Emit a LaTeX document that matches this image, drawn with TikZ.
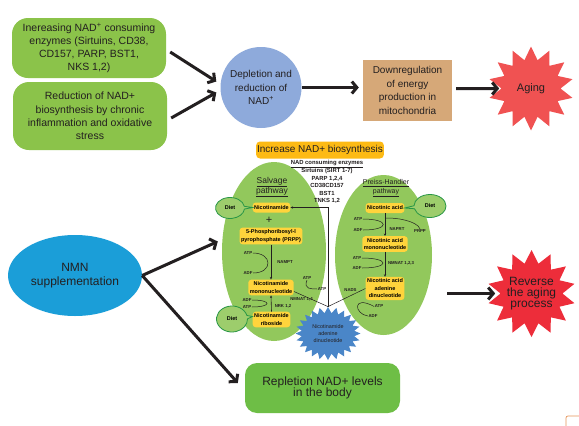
\documentclass[tikz,border=0pt]{standalone}
\usepackage{fontspec}
\setmainfont{Liberation Sans}
\usetikzlibrary{arrows.meta,shapes.geometric,shapes.symbols,shapes.callouts}

\definecolor{causegreen}{RGB}{139,195,74}
\definecolor{deplblue}{RGB}{142,170,219}
\definecolor{energytan}{RGB}{214,168,120}
\definecolor{agingred}{RGB}{240,82,82}
\definecolor{reversered}{RGB}{237,45,58}
\definecolor{nmnblue}{RGB}{27,158,216}
\definecolor{replgreen}{RGB}{110,190,70}
\definecolor{pathgreen}{RGB}{146,200,92}
\definecolor{stepyellow}{RGB}{255,212,60}
\definecolor{headorange}{RGB}{253,186,20}
\definecolor{dietline}{RGB}{40,150,70}
\definecolor{nadblue}{RGB}{74,134,200}
\definecolor{inkgray}{RGB}{35,31,32}
\definecolor{cornerorange}{RGB}{230,150,90}

\tikzset{
  causebox/.style={fill=causegreen, rounded corners=16pt, minimum width=154pt, align=center, inner sep=2pt, text=inkgray, font=\fontsize{10.5}{13.3}\selectfont},
  bigarrow/.style={draw=inkgray, line width=3pt, -{Straight Barb[length=5pt,width=12pt]}},
  ybox/.style={fill=stepyellow, rounded corners=3pt, align=center, inner xsep=1.5pt, inner ysep=2pt, minimum height=10pt, font=\bfseries\fontsize{5.5}{7.5}\selectfont},
  cofactor/.style={inner sep=0.5pt, text=inkgray, font=\bfseries\fontsize{4.3}{5}\selectfont},
  cofline/.style={draw=inkgray, line width=0.5pt},
  enzarrow/.style={draw=inkgray, line width=0.6pt, -{Stealth[length=2.5pt,width=2.2pt]}},
  diet/.style={ellipse callout, draw=dietline, fill=pathgreen!90!white, line width=0.8pt, inner sep=0pt, font=\bfseries\fontsize{5.5}{6}\selectfont},
  burst/.style={starburst, random starburst=0, inner sep=0pt},
}

\begin{document}
\begin{tikzpicture}[x=1pt,y=-1pt]
\useasboundingbox (0,0) rectangle (579,426);
\fill[white] (0,0) rectangle (579,426);

\node[causebox, minimum height=60pt] (incr) at (89,48) {Inereasing NAD\textsuperscript{+} consuming\\enzymes (Sirtuins, CD38,\\CD157, PARP, BST1,\\NKS 1,2)};
\node[causebox, minimum height=68pt] (redu) at (90,116) {Reduction of NAD+\\biosynthesis by chronic\\inflammation and oxidative\\stress};
\node[circle, fill=deplblue, minimum size=81pt, inner sep=0pt, align=center, text=inkgray, font=\fontsize{10}{13.5}\selectfont] (depl) at (261,87.5) {Depletion and\\reduction of\\NAD\textsuperscript{+}};
\node[fill=energytan, minimum width=89pt, minimum height=61pt, align=center, text=inkgray, font=\fontsize{10}{13.5}\selectfont] (down) at (407.5,90.5) {Downregulation\\of energy\\production in\\mitochondria};
\node[burst, starburst points=14, starburst point height=13pt, fill=agingred, minimum width=85pt, minimum height=84pt, text=inkgray, font=\fontsize{11}{13}\selectfont] (aging) at (531,88.5) {Aging};

\draw[bigarrow] ([xshift=4pt,yshift=-4pt]incr.east) -- ([xshift=-4pt,yshift=6pt]depl.west);
\draw[bigarrow] ([xshift=4pt,yshift=-2pt]redu.east) -- ([xshift=-4pt,yshift=-5pt]depl.west);
\draw[bigarrow] (depl.east) -- ([xshift=-4pt]depl.east -| down.west);
\draw[bigarrow] ([xshift=4pt,yshift=2pt]down.east) -- ([xshift=-2pt]aging.west);

\node[fill=headorange, rounded corners=4pt, minimum width=126pt, minimum height=17pt, inner sep=1pt, text=inkgray, font=\fontsize{10}{12}\selectfont] (incbio) at (320,150) {Increase NAD+ biosynthesis};

\node[ellipse, fill=pathgreen, minimum width=104pt, minimum height=179pt] (salvage) at (274,251.5) {};
\node[ellipse, fill=pathgreen, minimum width=97pt, minimum height=160pt] (preiss) at (383.5,255) {};
\node[burst, starburst points=24, starburst point height=6pt, fill=nadblue, minimum width=65pt, minimum height=53pt, align=center, text=inkgray, font=\fontsize{5.4}{7}\selectfont] (nad) at (328,333.5) {Nicotinamide\\adenine\\dinucleotide};

\node[align=center, text=inkgray, font=\bfseries\fontsize{5.9}{7.5}\selectfont] (enz) at (327,182) {\underline{NAD consuming enzymes}\\Sirtuins (SIRT 1-7)\\PARP 1,2,4\\CD38CD157\\BST1\\TNKS 1,2};

\node[align=center, text=inkgray, font=\fontsize{8.5}{10}\selectfont] (salvlab) at (272,187) {\underline{Salvage}\\\underline{pathway}};
\node[ybox] (nicam) at (271.5,207.5) {Nicotinamide};
\node[text=inkgray, font=\fontsize{11}{11}\selectfont, inner sep=0pt] (plus) at (269,220) {+};
\node[ybox] (prpp) at (271,236) {5-Phosphoribosyl-l\\pyrophosphate (PRPP)};
\node[ybox] (nmn) at (271,287.5) {Nicotinamide\\mononucleotide};
\node[ybox] (nr) at (271.5,319.5) {Nicotinamide\\riboside};

\node[cofactor] (atpa) at (248,253) {ATP};
\node[cofactor] (adpa) at (248,273) {ADF};
\node[cofactor] (nampt) at (285,262) {NAMPT};
\node[cofactor] (atpb) at (307,278) {ATP};
\node[cofactor] (atpc) at (322,289) {ATP};
\node[cofactor] (nmnat) at (301.5,299.5) {NMNAT 1,4};
\node[cofactor] (adpd) at (247,300) {ADF};
\node[cofactor] (atpd) at (247,307) {ATP};
\node[cofactor] (nrk) at (283,306) {NRK 1,2};

\draw[enzarrow] (prpp.south) -- (nmn.north);
\draw[cofline] (atpa.east) .. controls +(20,0) and +(20,0) .. (adpa.east);
\draw[cofline] (atpb.south) .. controls +(-4,9) and +(-6,0) .. (atpc.west);
\draw[cofline] ([yshift=-4pt]nmn.east) -- (nad.north);
\draw[enzarrow] (nr.north) -- (nmn.south);
\draw[cofline] (adpd.east) .. controls +(20,0) and +(20,0) .. (atpd.east);
\draw[enzarrow] (nad.north) |- (nicam.east);

\node[align=center, text=inkgray, font=\fontsize{7}{9}\selectfont] (preisslab) at (386,188.5) {\underline{Preiss-Handler}\\\underline{pathway}};
\node[ybox] (na) at (385,208) {Nicotinic acid};
\node[ybox] (namn) at (385,244) {Nicotinic acid\\mononucleotide};
\node[ybox] (naad) at (385,288.5) {Nicotinic acid\\adenine\\dinucleotide};

\node[cofactor] (atpe) at (358,219) {ATP};
\node[cofactor] (adpe) at (358,230) {ADF};
\node[cofactor] (naprt) at (397,229) {NAPRT};
\node[cofactor] (prppb) at (420,231) {PRPP};
\node[cofactor] (atpf) at (357,258) {ATP};
\node[cofactor] (adpf) at (357,268) {ADF};
\node[cofactor] (nmnatb) at (401,263) {NMNAT 1,2,3};
\node[cofactor] (nads) at (350.5,290) {NADS};
\node[cofactor] (atpg) at (379,306.5) {ATP};
\node[cofactor] (adpg) at (373,316) {ADF};

\draw[enzarrow] (na.south) -- (namn.north);
\draw[cofline] (atpe.east) .. controls +(27,0) and +(27,0) .. (adpe.east);
\draw[cofline] (prppb.north) .. controls +(-3,-8) and +(10,-1) .. ([yshift=-5pt]na.south);
\draw[enzarrow] (namn.south) -- (naad.north);
\draw[cofline] (atpf.east) .. controls +(28,0) and +(28,0) .. (adpf.east);
\draw[cofline] (naad.west) -- (nad.north);
\draw[cofline] (atpg.west) .. controls +(-22,-12) and +(-14,-2) .. (adpg.west);

\node[diet, minimum width=29pt, minimum height=21pt, callout absolute pointer={(nicam.west)}] (dieta) at (230,208) {Diet};
\node[diet, minimum width=31pt, minimum height=26pt, callout absolute pointer={([yshift=3pt]nr.west)}] (dietb) at (232,319) {Diet};
\node[diet, minimum width=32pt, minimum height=23pt, callout absolute pointer={(na.east)}] (dietc) at (430,206) {Diet};

\node[ellipse, fill=nmnblue, minimum width=110pt, minimum height=81pt, align=center, text=inkgray, font=\fontsize{12}{13.3}\selectfont] (nmnsup) at (75,275.5) {NMN\\supplementation};
\node[fill=replgreen, rounded corners=12pt, minimum width=155pt, minimum height=50pt, align=center, text=inkgray, font=\fontsize{12}{11.5}\selectfont] (repl) at (322.5,388) {Repletion NAD+ levels\\in the body};
\node[burst, starburst points=14, starburst point height=13pt, fill=reversered, minimum width=88pt, minimum height=87pt, label={[align=center, text=inkgray, font=\fontsize{12}{11}\selectfont]center:Reverse\\the aging\\process}] (rev) at (531.5,293.5) {};

\draw[bigarrow] (nmnsup.east) -- ([xshift=-4pt,yshift=10pt]salvage.west);
\draw[bigarrow] (nmnsup.east) -- ([xshift=-7pt,yshift=5pt]repl.west);
\draw[bigarrow] ([xshift=-53pt]rev.west) -- ([xshift=-5pt]rev.west);

\draw[cornerorange, line width=0.7pt, rounded corners=2pt] (566,428) -- (566,416) -- (581,416);
\end{tikzpicture}
\end{document}
